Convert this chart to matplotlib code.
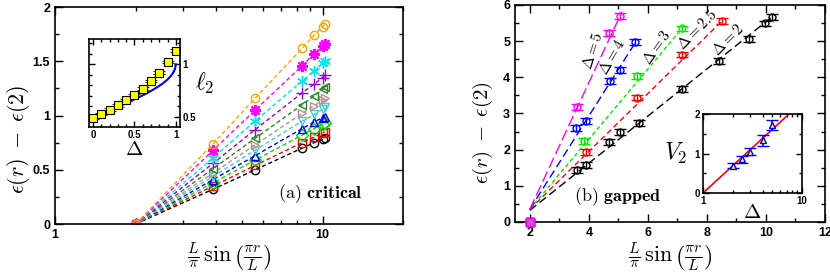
import matplotlib
matplotlib.use("Agg")
import matplotlib.pyplot as plt
import numpy as np
from matplotlib.ticker import MultipleLocator, FixedLocator, FixedFormatter, NullFormatter

plt.rcParams['mathtext.fontset'] = 'cm'
plt.rcParams['font.family'] = ['Liberation Sans', 'DejaVu Sans']

# ---- (a) critical : one series per Delta = 0, 0.1, ..., 1
crit_x = [2, 3.9, 5.6, 8.4, 9.3, 10.0, 10.2]
crit_y = [
    [0, 0.32, 0.50, 0.70, 0.75, 0.78, 0.79],
    [0, 0.35, 0.54, 0.75, 0.80, 0.84, 0.85],
    [0, 0.38, 0.59, 0.82, 0.88, 0.92, 0.93],
    [0, 0.41, 0.63, 0.88, 0.94, 0.98, 0.99],
    [0, 0.44, 0.68, 0.95, 1.01, 1.06, 1.08],
    [0, 0.47, 0.73, 1.02, 1.09, 1.14, 1.16],
    [0, 0.51, 0.79, 1.10, 1.18, 1.24, 1.26],
    [0, 0.56, 0.87, 1.21, 1.29, 1.35, 1.37],
    [0, 0.61, 0.95, 1.32, 1.41, 1.48, 1.50],
    [0, 0.68, 1.05, 1.46, 1.57, 1.64, 1.66],
    [0, 0.74, 1.16, 1.62, 1.74, 1.82, 1.84],
]
crit_colors = ['black', 'red', '#00dd00', 'blue', '#40d0d0', '#bc8f8f',
               '#228b22', '#9400d3', '#00e5ee', '#ff00ff', '#ffa500']
crit_markers = ['o', 's', 'D', '^', 'v', '>', '<', '+', (6, 2, 0), (8, 2, 0), 'o']

# inset (a): l_2 vs Delta
l2_delta = [0, 0.1, 0.2, 0.3, 0.4, 0.5, 0.6, 0.7, 0.8, 0.9, 1.0]
l2_vals = [0.495, 0.53, 0.57, 0.61, 0.66, 0.71, 0.77, 0.84, 0.92, 1.02, 1.13]
curve_delta = [0, 0.1, 0.2, 0.3, 0.4, 0.5, 0.6, 0.7, 0.8, 0.85, 0.9, 0.94, 0.97, 0.99, 1.0]
curve_vals = [0.5, 0.532, 0.564, 0.597, 0.631, 0.667, 0.705, 0.747, 0.795,
              0.823, 0.856, 0.889, 0.922, 0.955, 1.0]

# ---- (b) gapped
gap_labels = ['2', '2.5', '3', '4', '5']
gap_colors = ['black', 'red', '#00ee00', 'blue', '#ff00ff']
gap_x = [
    [2, 3.6, 3.9, 4.7, 5.07, 5.69, 7.16, 8.42, 9.41, 9.97, 10.2],
    [2, 3.92, 5.64, 7.16, 8.51],
    [2, 3.83, 5.64, 7.16],
    [2, 3.58, 3.92, 4.71, 5.07, 5.58],
    [2, 3.61, 4.68, 5.07],
]
gap_y = [
    [0, 1.44, 1.57, 2.22, 2.48, 2.73, 3.67, 4.46, 5.07, 5.49, 5.67],
    [0, 1.94, 3.44, 4.63, 5.55],
    [0, 2.25, 4.03, 5.35],
    [0, 2.59, 2.80, 3.90, 4.20, 4.98],
    [0, 3.19, 5.22, 5.70],
]
fit_y0 = [0.32, 0.35, 0.35, 0.35, 0.35]   # fit value at x = 2
fit_x1 = [10.3, 8.55, 7.2, 5.6, 5.12]
fit_slope = [0.652, 0.80, 0.97, 1.29, 1.75]
gap_dash = [(6, 3), (4, 2.5), (3, 2), (6, 3), (8, 3)]
lab_pos = [(8.73, 5.05, 45), (7.67, 5.32, 45), (6.29, 4.84, 55), (4.80, 4.58, 60), (4.12, 4.75, 72)]

# inset (b): V_2 vs Delta
v2_delta = [2, 2.5, 3, 4, 5]
v2_vals = [0.69, 0.85, 1.05, 1.33, 1.72]
v2_err = [0.06, 0.09, 0.1, 0.13, 0.13]
line_delta = [1, 10]
line_vals = [0, np.log(10)]

tick_kw = dict(direction='in', top=True, right=True)
ylab = r'$\epsilon(r)\;-\;\epsilon(2)$'
xlab = r'$\frac{L}{\pi}\,\sin\left(\frac{\pi r}{L}\right)$'

fig = plt.figure(figsize=(8.3, 2.77), dpi=100)

# ================= panel (a)
ax = fig.add_axes([0.0663, 0.1913, 0.4193, 0.7834])
for ys, c, m in zip(crit_y, crit_colors, crit_markers):
    ast = isinstance(m, tuple)
    ax.plot(crit_x, ys, ls='--', dashes=(3, 2), color=c, lw=1.0, marker=m,
            ms=8 if (ast or m == '+') else 6,
            mfc='none', mec=c, mew=1.6 if m == (8, 2, 0) else 1.0)
ax.set_xscale('log')
ax.set_xlim(1, 20)
ax.set_ylim(0, 2)
ax.xaxis.set_major_locator(FixedLocator([1, 10]))
ax.xaxis.set_major_formatter(FixedFormatter(['1', '10']))
ax.xaxis.set_minor_locator(FixedLocator([2, 3, 4, 5, 6, 7, 8, 9, 20]))
ax.xaxis.set_minor_formatter(NullFormatter())
ax.yaxis.set_minor_locator(MultipleLocator(0.25))
ax.set_yticks([0, 0.5, 1, 1.5, 2])
ax.set_yticklabels(['0', '0.5', '1', '1.5', '2'])
ax.tick_params(which='major', length=6, width=1, **tick_kw)
ax.tick_params(which='minor', length=3, width=1, **tick_kw)
for t in ax.get_xticklabels() + ax.get_yticklabels():
    t.set_fontweight('bold')
    t.set_fontsize(9)
for s in ax.spines.values():
    s.set_linewidth(1.2)
fig.text(18 / 830, 0.498, ylab, fontsize=16, rotation=90, ha='center', va='center')
fig.text(229 / 830, 0.135, xlab, fontsize=16, ha='center', va='top')
ax.text(6.84, 0.276, r'$\mathrm{(a)}\ \mathbf{critical}$', fontsize=13, va='center')

# inset (a)
ins = fig.add_axes([0.1072, 0.5415, 0.1096, 0.3177])
ins.plot(curve_delta, curve_vals, color='blue', lw=1.5)
ins.errorbar(l2_delta, l2_vals, yerr=0.012, fmt='s', ms=6, mfc='#ffff00', mec='black',
             mew=0.8, ecolor='#333333', elinewidth=0.8, capsize=4, capthick=1.0)
ins.set_xlim(-0.05, 1.05)
ins.set_ylim(0.405, 1.24)
ins.xaxis.set_major_locator(FixedLocator([0, 0.5, 1]))
ins.xaxis.set_major_formatter(FixedFormatter(['0', '0.5', '1']))
ins.xaxis.set_minor_locator(MultipleLocator(0.1))
ins.yaxis.set_major_locator(FixedLocator([0.5, 1]))
ins.yaxis.set_major_formatter(FixedFormatter(['0.5', '1']))
ins.yaxis.set_minor_locator(MultipleLocator(0.1))
ins.yaxis.tick_right()
ins.tick_params(which='major', length=4, width=1, direction='in', top=True, left=True, right=True,
                labelleft=False, labelright=True, labelsize=7, pad=2)
ins.tick_params(which='minor', length=2, width=1, direction='in', top=True, left=True, right=True)
for t in ins.get_xticklabels() + ins.get_yticklabels():
    t.set_fontweight('bold')
for s in ins.spines.values():
    s.set_linewidth(1.2)
ins.yaxis.set_label_position('right')
ins.set_ylabel(r'$\ell_2$', fontsize=17, rotation=0, labelpad=6, va='center')
ins.set_xlabel(r'$\Delta$', fontsize=15, labelpad=0)

# ================= panel (b)
bx = fig.add_axes([0.6205, 0.1986, 0.3735, 0.7834])
for i in range(len(gap_labels)):
    c = gap_colors[i]
    xs = np.array([2, fit_x1[i]])
    bx.plot(xs, fit_y0[i] + fit_slope[i] * (xs - 2), color=c, lw=1.0, ls='--',
            dashes=gap_dash[i])
    bx.errorbar(gap_x[i][1:], gap_y[i][1:], yerr=0.08, fmt='o', ms=5, mfc='none',
                mec=c, mew=1.0, ecolor=c, elinewidth=1.0, capsize=4, capthick=1.0)
    bx.plot(gap_x[i][0], gap_y[i][0], marker='s', ms=6, mfc='#cc55cc', mec=c, mew=1.0,
            clip_on=False, zorder=5)
    tx, ty, rot = lab_pos[i]
    bx.text(tx, ty, r'$\Delta=' + gap_labels[i] + '$', fontsize=11, rotation=rot,
            ha='center', va='center')
bx.set_xlim(1.5, 12)
bx.set_ylim(0, 6)
bx.xaxis.set_major_locator(MultipleLocator(2))
bx.xaxis.set_minor_locator(MultipleLocator(1))
bx.yaxis.set_major_locator(MultipleLocator(1))
bx.yaxis.set_minor_locator(MultipleLocator(0.5))
bx.tick_params(which='major', length=6, width=1, **tick_kw)
bx.tick_params(which='minor', length=3, width=1, **tick_kw)
for t in bx.get_xticklabels() + bx.get_yticklabels():
    t.set_fontweight('bold')
    t.set_fontsize(9)
for s in bx.spines.values():
    s.set_linewidth(1.2)
fig.text(483 / 830, 0.5217, ylab, fontsize=15, rotation=90, ha='center', va='center')
fig.text(670 / 830, 0.135, xlab, fontsize=16, ha='center', va='top')
bx.text(3.49, 0.70, r'$\mathrm{(b)}\ \mathbf{gapped}$', fontsize=13, va='center')

# inset (b)
bins = fig.add_axes([0.847, 0.3032, 0.1193, 0.2852])
bins.plot(line_delta, line_vals, color='red', lw=1.2)
bins.errorbar(v2_delta, v2_vals, yerr=v2_err, fmt='^', ms=5, mfc='#ffff00', mec='blue',
              mew=1.0, ecolor='blue', elinewidth=1.2, capsize=4, capthick=1.2)
bins.set_xscale('log')
bins.set_xlim(1, 10)
bins.set_ylim(0, 2)
bins.xaxis.set_major_locator(FixedLocator([1, 10]))
bins.xaxis.set_major_formatter(FixedFormatter(['1', '10']))
bins.xaxis.set_minor_locator(FixedLocator([2, 3, 4, 5, 6, 7, 8, 9]))
bins.xaxis.set_minor_formatter(NullFormatter())
bins.yaxis.set_major_locator(FixedLocator([0, 1, 2]))
bins.yaxis.set_minor_locator(FixedLocator([0.5, 1.5]))
bins.tick_params(which='major', length=4, width=1, direction='in', top=True, right=True,
                 labelsize=7, pad=2)
bins.tick_params(which='minor', length=2, width=1, direction='in', top=True, right=True)
for t in bins.get_xticklabels() + bins.get_yticklabels():
    t.set_fontweight('bold')
for s in bins.spines.values():
    s.set_linewidth(1.2)
bins.set_ylabel(r'$V_2$', fontsize=17, rotation=0, labelpad=14, va='center')
bins.set_xlabel(r'$\Delta$', fontsize=15, labelpad=-2)

fig.savefig('out.png', dpi=100)
